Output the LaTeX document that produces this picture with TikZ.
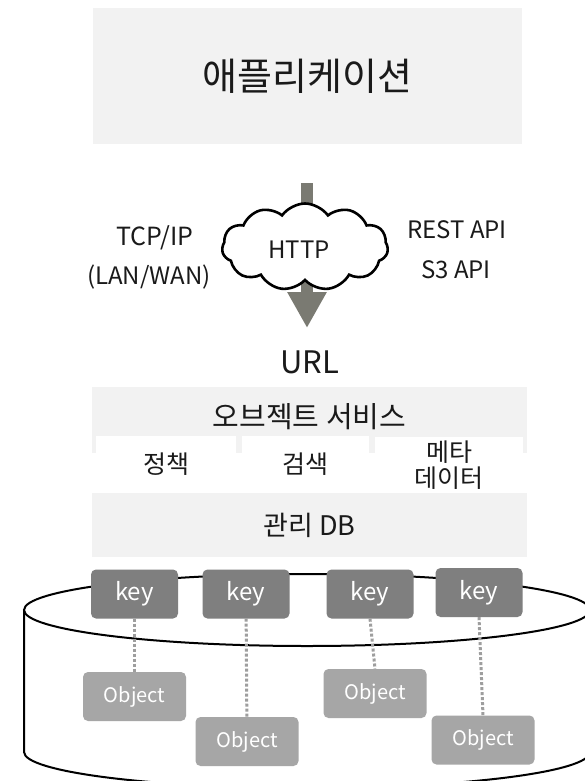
\documentclass[tikz,border=0pt]{standalone}
\usepackage{fontspec}
\setmainfont{Noto Sans CJK KR}
\usetikzlibrary{shapes.symbols,arrows.meta}
\definecolor{boxgray}{HTML}{F2F2F2}
\definecolor{keygray}{HTML}{7F7F7F}
\definecolor{objgray}{HTML}{A6A6A6}
\definecolor{dotgray}{HTML}{9E9E9E}
\definecolor{arrgray}{HTML}{7A7A72}
\definecolor{txt}{HTML}{1A1A1A}
\begin{document}
\begin{tikzpicture}[x=1pt,y=-1pt,
  panel/.style={fill=boxgray, inner sep=0pt, outer sep=0pt, text=txt},
  colbox/.style={fill=white, inner sep=0pt, outer sep=0pt, minimum height=56pt, text=txt, align=center, font=\fontsize{25}{26}\selectfont},
  keybox/.style={fill=keygray, rounded corners=5pt, minimum width=87pt, minimum height=49pt, inner sep=0pt, text=white, font=\fontsize{24}{24}\selectfont},
  objbox/.style={fill=objgray, rounded corners=5pt, minimum width=103pt, minimum height=49pt, inner sep=0pt, text=white, font=\fontsize{20}{22}\selectfont},
  link/.style={draw=dotgray, line width=3pt, dash pattern=on 3pt off 2pt},
  lbl/.style={font=\fontsize{24}{28}\selectfont, text=txt, inner sep=0pt}]
\useasboundingbox (0,0) rectangle (585,781);
\clip (0,0) rectangle (585,781);
\fill[white] (0,0) rectangle (585,781);

% application box
\node[panel, minimum width=429pt, minimum height=135pt, font=\fontsize{38}{42}\selectfont] (app) at (307.5,76) {애플리케이션};

% arrow
\coordinate (arrS) at (307,183);
\coordinate (arrE) at (307,328);
\draw[arrgray, line width=12pt, -{Triangle[width=37pt,length=36pt]}] (arrS) -- (arrE);

% cloud
\node[cloud, cloud puffs=11, cloud puff arc=110, aspect=2, draw=black, line width=2.6pt, fill=white, minimum width=166pt, minimum height=87pt, inner sep=0pt] (cloud) at (305,247) {};
\node[lbl] (http) at (299,250) {HTTP};

\node[lbl, font=\fontsize{25}{28}\selectfont] (tcp) at (155,238) {TCP/IP};
\node[lbl] (lan) at (149,277) {(LAN/WAN)};
\node[lbl] (rest) at (457,230) {REST API};
\node[lbl] (s3) at (456,270) {S3 API};

\node[lbl, font=\fontsize{31}{34}\selectfont] (url) at (310,362) {URL};

% object service
\node[panel, minimum width=435pt, minimum height=66pt, anchor=north] (svc) at (309.5,387) {};
\node[lbl, font=\fontsize{29}{32}\selectfont] (svct) at (309.5,417) {오브젝트 서비스};
\node[colbox, minimum width=140pt] (c1) at (166,464) {정책};
\node[colbox, minimum width=127pt] (c2) at (305.5,464) {검색};
\node[colbox, minimum width=148pt] (c3) at (449,465) {메타\\데이터};

\node[panel, minimum width=435pt, minimum height=64pt, font=\fontsize{27}{30}\selectfont] (db) at (309.5,525) {관리 DB};

% cylinder
\draw[line width=2pt, fill=white] (24,610) -- (24,752) arc[start angle=180, end angle=360, x radius=283pt, y radius=36pt] -- (590,610) -- cycle;
\draw[line width=2pt, fill=white] (307,610) ellipse [x radius=283pt, y radius=36pt];

% keys and objects
\node[keybox] (k1) at (134.5,594) {key};
\node[keybox] (k2) at (246,594) {key};
\node[keybox] (k3) at (370,594) {key};
\node[keybox] (k4) at (479,592.5) {key};

\node[objbox] (o1) at (134.5,696.5) {Object};
\node[objbox] (o2) at (247,741.5) {Object};
\node[objbox] (o3) at (375,693.5) {Object};
\node[objbox] (o4) at (483,740) {Object};

\draw[link] (k1) -- (o1);
\draw[link] (k2) -- (o2);
\draw[link] (k3.south) -- (o3.north);
\draw[link] (k4.south) -- (o4.north);
\end{tikzpicture}
\end{document}
